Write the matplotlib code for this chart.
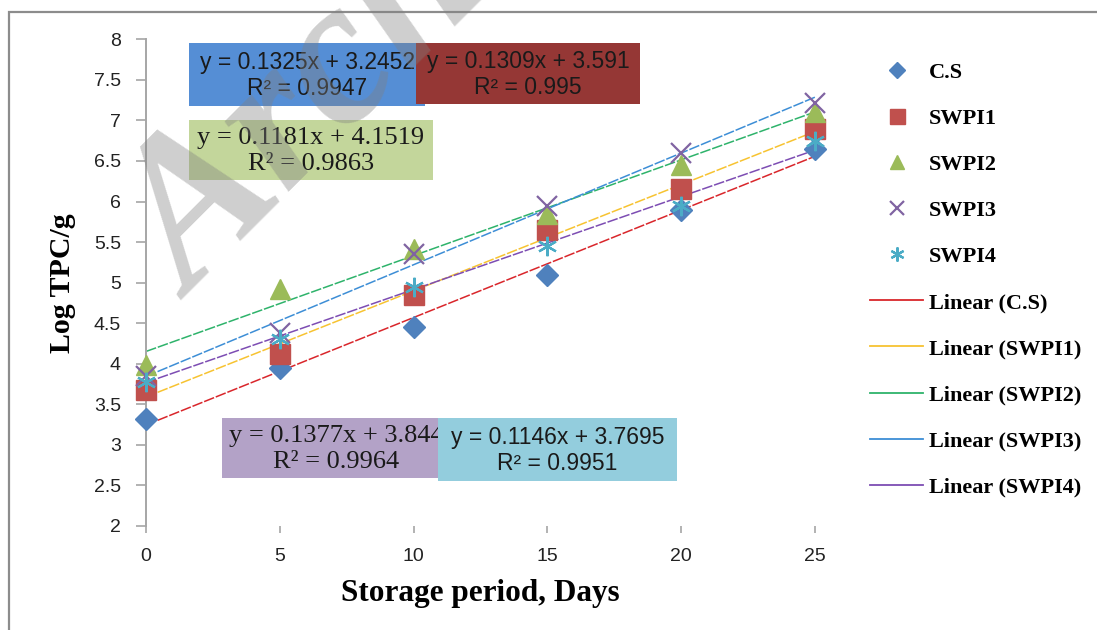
import matplotlib
matplotlib.use("Agg")
import matplotlib.pyplot as plt
from matplotlib.lines import Line2D
from matplotlib.patches import Rectangle
import numpy as np

# storage days and Log TPC/g
days = [0, 5, 10, 15, 20, 25]
cs = [3.32, 3.95, 4.45, 5.10, 5.90, 6.65]
swpi1 = [3.68, 4.12, 4.85, 5.65, 6.15, 6.90]
swpi2 = [3.98, 4.92, 5.42, 5.85, 6.45, 7.10]
swpi3 = [3.85, 4.38, 5.35, 5.95, 6.60, 7.22]
swpi4 = [3.78, 4.30, 4.95, 5.45, 5.95, 6.75]

series_names = ["C.S", "SWPI1", "SWPI2", "SWPI3", "SWPI4"]
series_values = [cs, swpi1, swpi2, swpi3, swpi4]

# trendline equations printed on the chart
slopes = [0.1325, 0.1309, 0.1181, 0.1377, 0.1146]
intercepts = [3.2452, 3.591, 4.1519, 3.844, 3.7695]
r_squared = ["0.9947", "0.995", "0.9863", "0.9964", "0.9951"]

yticks = [2, 2.5, 3, 3.5, 4, 4.5, 5, 5.5, 6, 6.5, 7, 7.5, 8]

W, H = 1097, 630
DPI = 100


def fx(px):
    return px / W


def fy(py):
    return 1 - py / H


marker_styles = [
    dict(marker="D", ms=11, color="#4F81BD"),
    dict(marker="s", ms=15, color="#C0504D"),
    dict(marker="^", ms=14, color="#9BBB59"),
    dict(marker="x", ms=14, color="#8064A2", mew=1.6),
    dict(marker=(6, 2, 0), ms=14, color="#4BACC6", mew=1.6),
]
trend_colors = ["#D9262B", "#F7C331", "#2EB36B", "#3D8ED6", "#7D4DB3"]

fig = plt.figure(figsize=(W / DPI, H / DPI), dpi=DPI)

# outer chart-area border
fig.add_artist(Rectangle((fx(9), -0.1), 1.2, fy(12) + 0.1, transform=fig.transFigure,
                         fill=False, edgecolor="#8C8C8C", linewidth=1.6))

ax = fig.add_axes([fx(146), fy(526), fx(815) - fx(146), fy(39.3) - fy(526)])

xs = np.array([days[0], days[-1]])
for i, name in enumerate(series_names):
    ax.plot(xs, slopes[i] * xs + intercepts[i], color=trend_colors[i],
            linewidth=1.1, linestyle=(0, (7, 1.2)), zorder=2, clip_on=False)
for i, name in enumerate(series_names):
    ax.plot(days, series_values[i], linestyle="none", zorder=3, clip_on=False,
            **marker_styles[i])

ax.set_xlim(0, 25)
ax.set_ylim(2, 8)
ax.set_xticks(days)
ax.set_yticks(yticks)
ax.set_yticklabels([f"{t:g}" for t in yticks])
for side in ["top", "right", "bottom"]:
    ax.spines[side].set_visible(False)
ax.spines["left"].set_color("#A6A6A6")
ax.spines["left"].set_linewidth(1.4)
ax.tick_params(axis="y", length=7, width=1.2, color="#A6A6A6", pad=11,
               labelsize=14, labelcolor="#222222")
ax.tick_params(axis="x", length=5, width=1.2, color="#A6A6A6", pad=11,
               labelsize=14, labelcolor="#222222")
for lab in ax.get_xticklabels() + ax.get_yticklabels():
    lab.set_fontfamily("Liberation Sans")

fig.text(fx(62), fy(283), "Log TPC/g", rotation=90, ha="center", va="center",
         fontsize=21.5, fontweight="bold", family="Liberation Serif")
fig.text(fx(480), fy(593), "Storage period, Days", ha="center", va="center",
         fontsize=22.5, fontweight="bold", family="Liberation Serif")

# trendline equation boxes: (left, top, right, bottom) in pixels
box_colors = ["#558ED5", "#953735", "#C3D69B", "#B3A2C7", "#93CDDD"]
box_px = [(189, 43, 425, 106), (416, 43, 640, 104), (189, 120, 433, 180),
          (222, 418, 450, 478), (438, 418, 677, 481)]
box_font = ["Liberation Sans", "Liberation Sans", "Liberation Serif",
            "Liberation Serif", "Liberation Sans"]
box_size = [16.5, 16.5, 19, 19, 16.5]
for k in range(len(box_px)):
    l, t, r, b = box_px[k]
    fig.add_artist(Rectangle((fx(l), fy(b)), fx(r) - fx(l), fy(t) - fy(b),
                             transform=fig.transFigure, facecolor=box_colors[k],
                             edgecolor="none", zorder=5 + 2 * k))
    label = f"y = {slopes[k]}x + {intercepts[k]}\nR² = {r_squared[k]}"
    fig.text(fx((l + r) / 2), fy((t + b) / 2 + 1), label, ha="center", va="center",
             multialignment="center", fontsize=box_size[k], family=box_font[k],
             color="#1A1A1A", linespacing=1.2, zorder=6 + 2 * k)

handles = []
for i, name in enumerate(series_names):
    st = dict(marker_styles[i])
    st["ms"] = st["ms"] * 0.72
    handles.append(Line2D([], [], linestyle="none", **st))
for i, name in enumerate(series_names):
    handles.append(Line2D([], [], color=trend_colors[i], linewidth=1.3))
labels = series_names + [f"Linear ({n})" for n in series_names]
fig.legend(handles, labels, loc="upper left", bbox_to_anchor=(fx(870), fy(62)),
           frameon=False, borderpad=0, borderaxespad=0, handlelength=2.4,
           handletextpad=0.25, labelspacing=1.15,
           prop=dict(family="Liberation Serif", weight="bold", size=16))

# faint diagonal watermark over everything
fig.text(fx(192), fy(300), "Archive of SID", rotation=45, rotation_mode="anchor",
         ha="left", va="baseline", fontsize=150, fontweight="bold", fontstyle="italic",
         family="Liberation Serif", color="#808080", alpha=0.38, zorder=20)

fig.savefig("out.png", dpi=DPI)
